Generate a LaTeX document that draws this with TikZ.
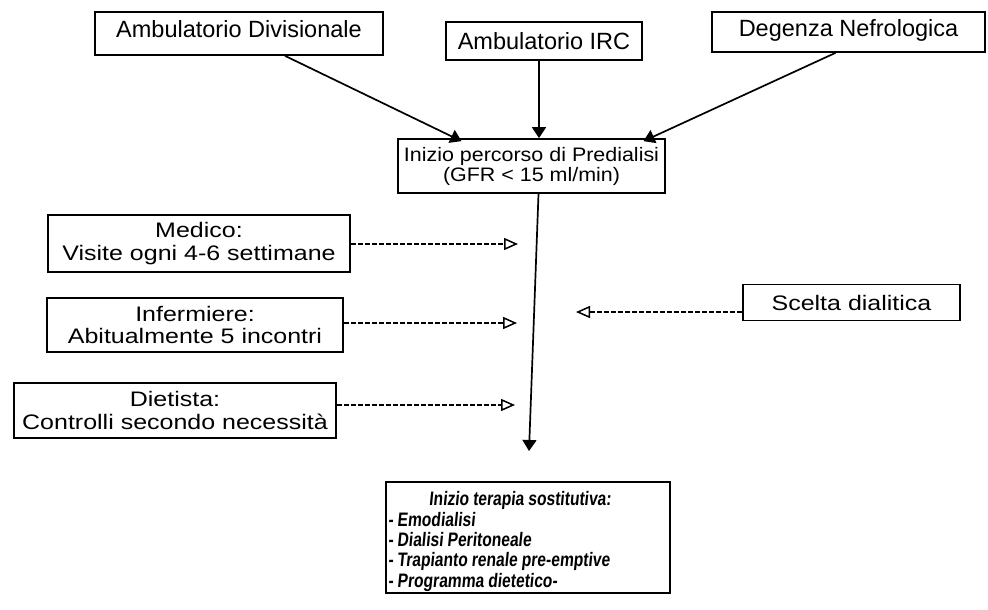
\documentclass[tikz,border=0pt]{standalone}
\usepackage{fontspec}
\setmainfont{Liberation Sans}
\newfontfamily\sidefontfam[FakeStretch=1.19]{Liberation Sans}
\newfontfamily\ipfontfam[FakeStretch=1.1]{Liberation Sans}
\newfontfamily\smallboxfont[FakeStretch=0.8,FakeSlant=0.1]{Liberation Sans}
\newcommand\ws{\hspace{4pt}}
\usetikzlibrary{arrows.meta}
\begin{document}
\begin{tikzpicture}[x=1pt,y=-1pt,
  box/.style={draw, line width=1.7pt, inner sep=0pt, align=center},
  topfont/.style={font=\fontsize{23.5}{25}\selectfont},
  sidefont/.style={font=\sidefontfam\fontsize{21}{22.5}\selectfont},
  solidarrow/.style={line width=1.7pt, -{Triangle[length=11pt,width=14pt]}},
  dasharrow/.style={line width=1.5pt, dash pattern=on 5pt off 2pt, -{Triangle[open,length=14pt,width=12pt,line width=1.5pt]}}
]
\useasboundingbox (0,0) rectangle (988,610);
\fill[white] (0,0) rectangle (988,610);

% top boxes
\node[box, topfont, minimum width=288pt, minimum height=43pt] (ad) at (239,33.5) {Ambulatorio Divisionale\rule[-9pt]{0pt}{1pt}};
\node[box, topfont, minimum width=196pt, minimum height=38pt] (irc) at (544,41) {Ambulatorio IRC};
\node[box, topfont, minimum width=273pt, minimum height=40pt] (dn) at (848.5,32) {Degenza Nefrologica\rule[-8pt]{0pt}{1pt}};

% start box
\node[box, font=\ipfontfam\fontsize{19.5}{20}\selectfont, minimum width=267pt, minimum height=54pt] (ip) at (531.5,166) {Inizio percorso di Predialisi\\(GFR < 15 ml/min)};

\draw[solidarrow] ([xshift=46pt]ad.south) -- ([xshift=-70pt,yshift=-3pt]ip.north);
\draw[solidarrow] ([xshift=-5pt]irc.south) -- ([xshift=7.5pt]ip.north);
\draw[solidarrow] ([xshift=-13pt]dn.south) -- ([xshift=112pt,yshift=-3pt]ip.north);

% main vertical line
\coordinate (vend) at (529,451);
\draw[solidarrow] ([xshift=7pt]ip.south) -- (vend);

% left boxes
\node[box, sidefont, minimum width=302pt, minimum height=57pt] (med) at (199,243.5) {Medico:\\Visite ogni 4-6 settimane};
\node[box, sidefont, minimum width=296pt, minimum height=54pt] (inf) at (195,325) {Infermiere:\\Abitualmente 5 incontri};
\node[box, sidefont, minimum width=322pt, minimum height=55pt] (die) at (175,410.5) {Dietista:\\Controlli secondo necessità};

\coordinate (m1) at (518,244);
\coordinate (m2) at (517,323);
\coordinate (m3) at (515,405);
\draw[dasharrow] (med.east |- m1) -- (m1);
\draw[dasharrow] (inf.east |- m2) -- (m2);
\draw[dasharrow] (die.east |- m3) -- (m3);

% right box
\node[box, sidefont, minimum width=217pt, minimum height=36pt] (sd) at (851.5,302.5) {Scelta dialitica};
\coordinate (m4) at (576,312);
\draw[dasharrow] (sd.west |- m4) -- (m4);

% bottom box
\node[box, font=\smallboxfont\bfseries\fontsize{19.5}{20.3}\selectfont, minimum width=284pt, minimum height=111pt, text width=280pt, align=left] (ts) at (528,537.5)
{\makebox[\linewidth]{\rule{0pt}{22pt}\hspace*{-16pt}Inizio\ws terapia\ws sostitutiva:}\\
-\ws Emodialisi\\
-\ws Dialisi\ws Peritoneale\\
-\ws Trapianto\ws renale\ws pre-emptive\\
-\ws Programma\ws dietetico-};
\end{tikzpicture}
\end{document}
